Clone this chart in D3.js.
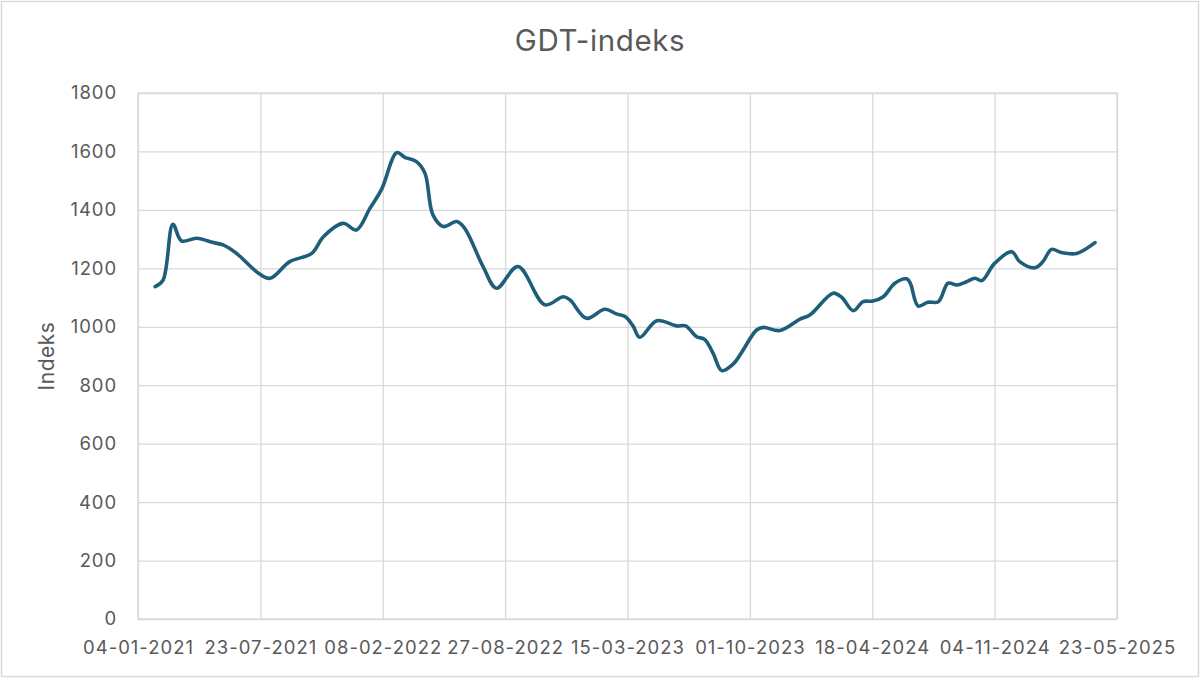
<!DOCTYPE html>
<html>
<head>
<meta charset="utf-8">
<script src="https://cdn.jsdelivr.net/npm/d3@7"></script>
<style>
  html, body { margin: 0; padding: 0; background: #fff; }
  svg { display: block; }
</style>
</head>
<body>
<svg id="chart" width="1200" height="678"></svg>
<script>
// ---- Data ----
const dates = [
  "2021-02-01","2021-02-14","2021-03-02","2021-03-16","2021-04-10","2021-05-07","2021-05-23",
  "2021-06-14","2021-07-20","2021-08-08","2021-09-09","2021-10-15","2021-11-03","2021-12-05",
  "2021-12-27","2022-01-18","2022-02-06","2022-03-03","2022-03-16","2022-04-04","2022-04-18",
  "2022-05-01","2022-05-18","2022-06-09","2022-06-22","2022-07-22","2022-08-13","2022-09-17",
  "2022-10-31","2022-11-30","2022-12-11","2023-01-07","2023-02-06","2023-02-25","2023-03-11",
  "2023-03-24","2023-04-04","2023-05-02","2023-06-03","2023-06-18","2023-07-06","2023-07-19",
  "2023-08-02","2023-08-16","2023-09-04","2023-10-12","2023-10-23","2023-11-19","2023-12-22",
  "2024-01-07","2024-02-14","2024-02-28","2024-03-18","2024-04-03","2024-04-19","2024-05-06",
  "2024-05-25","2024-06-13","2024-06-19","2024-07-02","2024-07-18","2024-08-04","2024-08-20",
  "2024-09-03","2024-09-19","2024-10-03","2024-10-14","2024-11-04","2024-12-02","2024-12-15",
  "2025-01-09","2025-01-22","2025-02-05","2025-02-21","2025-03-18","2025-04-17"
];
const values = [
  1137,1160,1351,1294,1303,1288,1280,
  1251,1183,1166,1223,1251,1308,1354,
  1331,1405,1470,1596,1580,1565,1525,
  1383,1343,1360,1337,1206,1132,1206,
  1075,1103,1092,1029,1060,1044,1035,
  1003,964,1021,1003,1003,966,957,
  909,850,873,989,998,987,1026,
  1040,1115,1101,1055,1086,1088,1103,
  1149,1164,1150,1071,1084,1086,1149,
  1143,1154,1166,1158,1217,1257,1223,
  1202,1223,1265,1254,1251,1288
];
const xTickLabels = ["04-01-2021","23-07-2021","08-02-2022","27-08-2022","15-03-2023",
                     "01-10-2023","18-04-2024","04-11-2024","23-05-2025"];
const yTicks = [0,200,400,600,800,1000,1200,1400,1600,1800];
const title = "GDT-indeks";
const yTitle = "Indeks";

// ---- Layout ----
const W = 1200, H = 678;
const M = { left: 138, right: 1117, top: 93, bottom: 619 };
const parse = d3.timeParse("%Y-%m-%d");
const parseTick = d3.timeParse("%d-%m-%Y");
const fmtTick = d3.timeFormat("%d-%m-%Y");
const tickDates = xTickLabels.map(parseTick);

const svg = d3.select("#chart");
const font = "Inter, 'Open Sans', sans-serif";
const textColor = "#595959";

svg.append("rect")
  .attr("x", 1.5).attr("y", 1.5)
  .attr("width", W - 3).attr("height", H - 3)
  .attr("fill", "#fff").attr("stroke", "#d9d9d9").attr("stroke-width", 1.5);

const x = d3.scaleTime()
  .domain([tickDates[0], tickDates[tickDates.length - 1]])
  .range([M.left, M.right]);
const y = d3.scaleLinear().domain([0, 1800]).range([M.bottom, M.top]);

// horizontal grid + y labels
svg.append("g")
  .attr("transform", `translate(${M.left},0)`)
  .call(d3.axisLeft(y).tickValues(yTicks).tickSize(-(M.right - M.left)).tickFormat(d3.format("d")).tickPadding(21))
  .call(g => g.select(".domain").remove())
  .call(g => g.selectAll(".tick line").attr("stroke", "#d9d9d9").attr("stroke-width", 1.3))
  .call(g => g.selectAll(".tick text").attr("fill", textColor)
      .attr("font-family", font).attr("font-size", 18.5).attr("letter-spacing", 0.9));

// vertical grid + x labels
svg.append("g")
  .attr("transform", `translate(0,${M.bottom})`)
  .call(d3.axisBottom(x).tickValues(tickDates).tickSize(-(M.bottom - M.top)).tickFormat(fmtTick).tickPadding(22))
  .call(g => g.select(".domain").remove())
  .call(g => g.selectAll(".tick line").attr("stroke", "#d9d9d9").attr("stroke-width", 1.3))
  .call(g => g.selectAll(".tick text").attr("fill", textColor)
      .attr("font-family", font).attr("font-size", 18.5).attr("letter-spacing", 1));

// plot frame
svg.append("rect")
  .attr("x", M.left).attr("y", M.top)
  .attr("width", M.right - M.left).attr("height", M.bottom - M.top)
  .attr("fill", "none").attr("stroke", "#d9d9d9").attr("stroke-width", 1.3);

// line
const data = dates.map((d, i) => ({ date: parse(d), value: values[i] }));
svg.append("path")
  .datum(data)
  .attr("fill", "none")
  .attr("stroke", "#1f5e7b")
  .attr("stroke-width", 3.6)
  .attr("stroke-linejoin", "round")
  .attr("stroke-linecap", "round")
  .attr("d", d3.line().x(d => x(d.date)).y(d => y(d.value)).curve(d3.curveCatmullRom.alpha(0.5)));

// title
svg.append("text")
  .attr("x", W / 2).attr("y", 51)
  .attr("text-anchor", "middle")
  .attr("fill", textColor).attr("font-family", font).attr("font-size", 29.5).attr("letter-spacing", 0.6)
  .text(title);

// y title
svg.append("text")
  .attr("transform", `translate(54,${(M.top + M.bottom) / 2}) rotate(-90)`)
  .attr("text-anchor", "middle")
  .attr("fill", textColor).attr("font-family", font).attr("font-size", 21).attr("letter-spacing", 0.5)
  .text(yTitle);
</script>
</body>
</html>
